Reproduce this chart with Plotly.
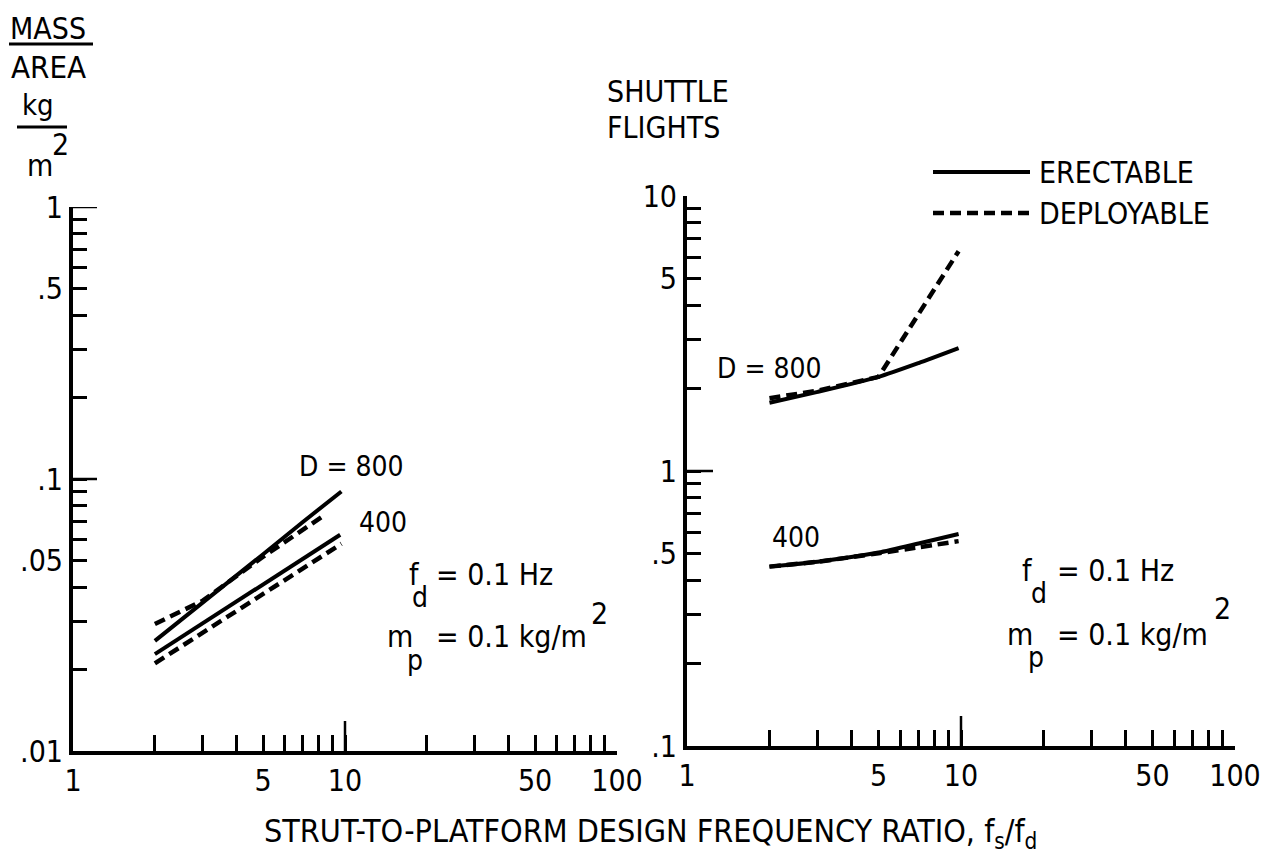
import plotly.graph_objects as go

# ---------------- data ----------------
x_ticks = [1, 5, 10, 50, 100]
x_tick_text = ["1", "5", "10", "50", "100"]
x_minor = [2, 3, 4, 6, 7, 8, 9, 20, 30, 40, 60, 70, 80, 90]

left_y_ticks = [0.01, 0.05, 0.1, 0.5, 1]
left_y_text = [".01", ".05", ".1", ".5", "1"]
left_y_minor = [0.02, 0.03, 0.04, 0.06, 0.07, 0.08, 0.09,
                0.2, 0.3, 0.4, 0.6, 0.7, 0.8, 0.9]

right_y_ticks = [0.1, 0.5, 1, 5, 10]
right_y_text = [".1", ".5", "1", "5", "10"]
right_y_minor = [0.2, 0.3, 0.4, 0.6, 0.7, 0.8, 0.9,
                 2, 3, 4, 6, 7, 8, 9]

# Left panel: mass / area (kg/m^2)
left_x_erect_800 = [2, 3, 5, 7, 9.7]
left_erect_800 = [0.0254, 0.0350, 0.0529, 0.0695, 0.090]
left_x_deploy_800 = [2, 3, 5, 8.3]
left_deploy_800 = [0.0293, 0.0357, 0.0518, 0.073]
left_x_erect_400 = [2, 3, 5, 7, 9.6]
left_erect_400 = [0.0227, 0.0295, 0.0410, 0.0509, 0.0624]
left_x_deploy_400 = [2, 3, 5, 7, 9.7]
left_deploy_400 = [0.0210, 0.0273, 0.0377, 0.0469, 0.0578]

# Right panel: shuttle flights
right_x = [2, 3, 5, 7, 9.8]
right_erect_800 = [1.77, 1.94, 2.20, 2.47, 2.80]
right_deploy_800 = [1.84, 1.96, 2.20, 3.70, 6.30]
right_erect_400 = [0.449, 0.468, 0.505, 0.545, 0.590]
right_deploy_400 = [0.449, 0.468, 0.502, 0.528, 0.556]

# decade ticks drawn longer
left_x_long = [10]
left_y_long = [0.1, 1]
right_x_long = [10]
right_y_long = [1]

# ---------------- styling ----------------
OFF = 8                       # page body margin of the html page
W, H = 1273 - OFF, 861 - OFF  # figure size so it fills the window
FONT = "DejaVu Sans Condensed, Liberation Sans Narrow, sans-serif"
FS = 30
DASH = "11px,6px"


def px(x):
    """screen pixel x -> paper fraction"""
    return (x - OFF) / W


def py(y):
    """screen pixel y -> paper fraction"""
    return 1 - (y - OFF) / H


fig = go.Figure()


def line(x, y, dash, xa, ya, shape="linear"):
    fig.add_trace(go.Scatter(
        x=x, y=y, mode="lines", xaxis=xa, yaxis=ya, showlegend=False,
        line=dict(color="black", width=4.5 if dash else 4,
                  dash=DASH if dash else "solid", shape=shape,
                  smoothing=0.6),
        hoverinfo="skip"))


line(left_x_erect_800, left_erect_800, False, "x", "y")
line(left_x_deploy_800, left_deploy_800, True, "x", "y")
line(left_x_erect_400, left_erect_400, False, "x", "y")
line(left_x_deploy_400, left_deploy_400, True, "x", "y")

line(right_x, right_erect_800, False, "x2", "y2", "spline")
line(right_x, right_deploy_800, True, "x2", "y2")
line(right_x, right_erect_400, False, "x2", "y2", "spline")
line(right_x, right_deploy_400, True, "x2", "y2", "spline")


def xaxis_cfg(domain, anchor):
    return dict(type="log", range=[0, 2], domain=domain, anchor=anchor,
                automargin=False,
                showline=True, linewidth=4, linecolor="black",
                ticks="inside", ticklen=16, tickwidth=2.5, tickcolor="black",
                tickmode="array", tickvals=x_ticks, ticktext=x_tick_text,
                minor=dict(tickmode="array", tickvals=x_minor, ticks="inside",
                           ticklen=16, tickwidth=2.5, tickcolor="black",
                           showgrid=False),
                showgrid=False, zeroline=False,
                tickfont=dict(family=FONT, size=FS, color="black"))


def yaxis_cfg(domain, anchor, rng, vals, text, minor):
    return dict(type="log", range=rng, domain=domain, anchor=anchor,
                automargin=False,
                showline=True, linewidth=4, linecolor="black",
                ticks="inside", ticklen=14, tickwidth=2.5, tickcolor="black",
                tickmode="array", tickvals=vals, ticktext=text,
                minor=dict(tickmode="array", tickvals=minor, ticks="inside",
                           ticklen=14, tickwidth=2.5, tickcolor="black",
                           showgrid=False),
                showgrid=False, zeroline=False,
                tickfont=dict(family=FONT, size=FS, color="black"))


fig.update_layout(
    template="none",
    width=W, height=H, autosize=False,
    margin=dict(l=0, r=0, t=0, b=0, pad=0),
    paper_bgcolor="white", plot_bgcolor="white",
    showlegend=False,
    xaxis=xaxis_cfg([px(73), px(617)], "y"),
    yaxis=yaxis_cfg([py(751), py(207)], "x", [-2, 0],
                    left_y_ticks, left_y_text, left_y_minor),
    xaxis2=xaxis_cfg([px(687), px(1235)], "y2"),
    yaxis2=yaxis_cfg([py(746), py(196)], "x2", [-1, 1],
                     right_y_ticks, right_y_text, right_y_minor),
    font=dict(family=FONT, size=FS, color="black"),
)

shapes = []
# longer decade ticks
for v in left_x_long:
    shapes.append(dict(type="line", xref="x", yref="y domain", x0=v, x1=v,
                       y0=0, y1=30 / 544, line=dict(color="black", width=2.5)))
for v in left_y_long:
    shapes.append(dict(type="line", xref="x domain", yref="y", y0=v, y1=v,
                       x0=0, x1=24 / 544, line=dict(color="black", width=2.5)))
for v in right_x_long:
    shapes.append(dict(type="line", xref="x2", yref="y2 domain", x0=v, x1=v,
                       y0=0, y1=30 / 550, line=dict(color="black", width=2.5)))
for v in right_y_long:
    shapes.append(dict(type="line", xref="x2 domain", yref="y2", y0=v, y1=v,
                       x0=0, x1=26 / 548, line=dict(color="black", width=2.5)))

# fraction bars of the left axis title
shapes.append(dict(type="line", xref="paper", yref="paper",
                   x0=px(9), x1=px(93), y0=py(44), y1=py(44),
                   line=dict(color="black", width=3)))
shapes.append(dict(type="line", xref="paper", yref="paper",
                   x0=px(17), x1=px(67), y0=py(127), y1=py(127),
                   line=dict(color="black", width=3)))
# legend samples
shapes.append(dict(type="line", xref="paper", yref="paper",
                   x0=px(933), x1=px(1030), y0=py(172), y1=py(172),
                   line=dict(color="black", width=4)))
shapes.append(dict(type="line", xref="paper", yref="paper",
                   x0=px(933), x1=px(1030), y0=py(213), y1=py(213),
                   line=dict(color="black", width=4.5, dash=DASH)))
fig.update_layout(shapes=shapes)

anns = []


def ann(text, x, y, size=FS, xanchor="left", yanchor="middle", pad=1):
    anns.append(dict(text=text, x=px(x), y=py(y), xref="paper", yref="paper",
                     xanchor=xanchor, yanchor=yanchor, showarrow=False,
                     borderpad=pad,
                     font=dict(family=FONT, size=size, color="black")))


# left axis title
ann("MASS", 9, 10, 30, yanchor="top", pad=0)
ann("AREA", 9, 67, 31)
ann("kg", 20, 105, 29)
ann("m", 25, 166)
ann("2", 50, 145)
# right axis title
ann("SHUTTLE", 605, 91)
ann("FLIGHTS", 605, 128)
# legend
ann("ERECTABLE", 1037, 172)
ann("DEPLOYABLE", 1037, 213)
# left curve labels
ann("D = 800", 297, 467, 28)
ann("400", 357, 522, 28)
ann("f", 407, 574)
ann("d", 410, 597, 28)
ann("= 0.1 Hz", 434, 574)
ann("m", 385, 636)
ann("p", 405, 660, 28)
ann("= 0.1 kg/m", 434, 636)
ann("2", 589, 613)
# right curve labels
ann("D = 800", 715, 368, 28)
ann("400", 770, 537, 28)
ann("f", 1020, 570)
ann("d", 1029, 593, 28)
ann("= 0.1 Hz", 1055, 570)
ann("m", 1005, 634)
ann("p", 1026, 657, 28)
ann("= 0.1 kg/m", 1055, 634)
ann("2", 1212, 608)
# x axis title
ann("STRUT-TO-PLATFORM DESIGN FREQUENCY RATIO, f<sub>s</sub>/f<sub>d</sub>",
    650, 833, 32, xanchor="center")
fig.update_layout(annotations=anns)

fig.write_html("out.html")
